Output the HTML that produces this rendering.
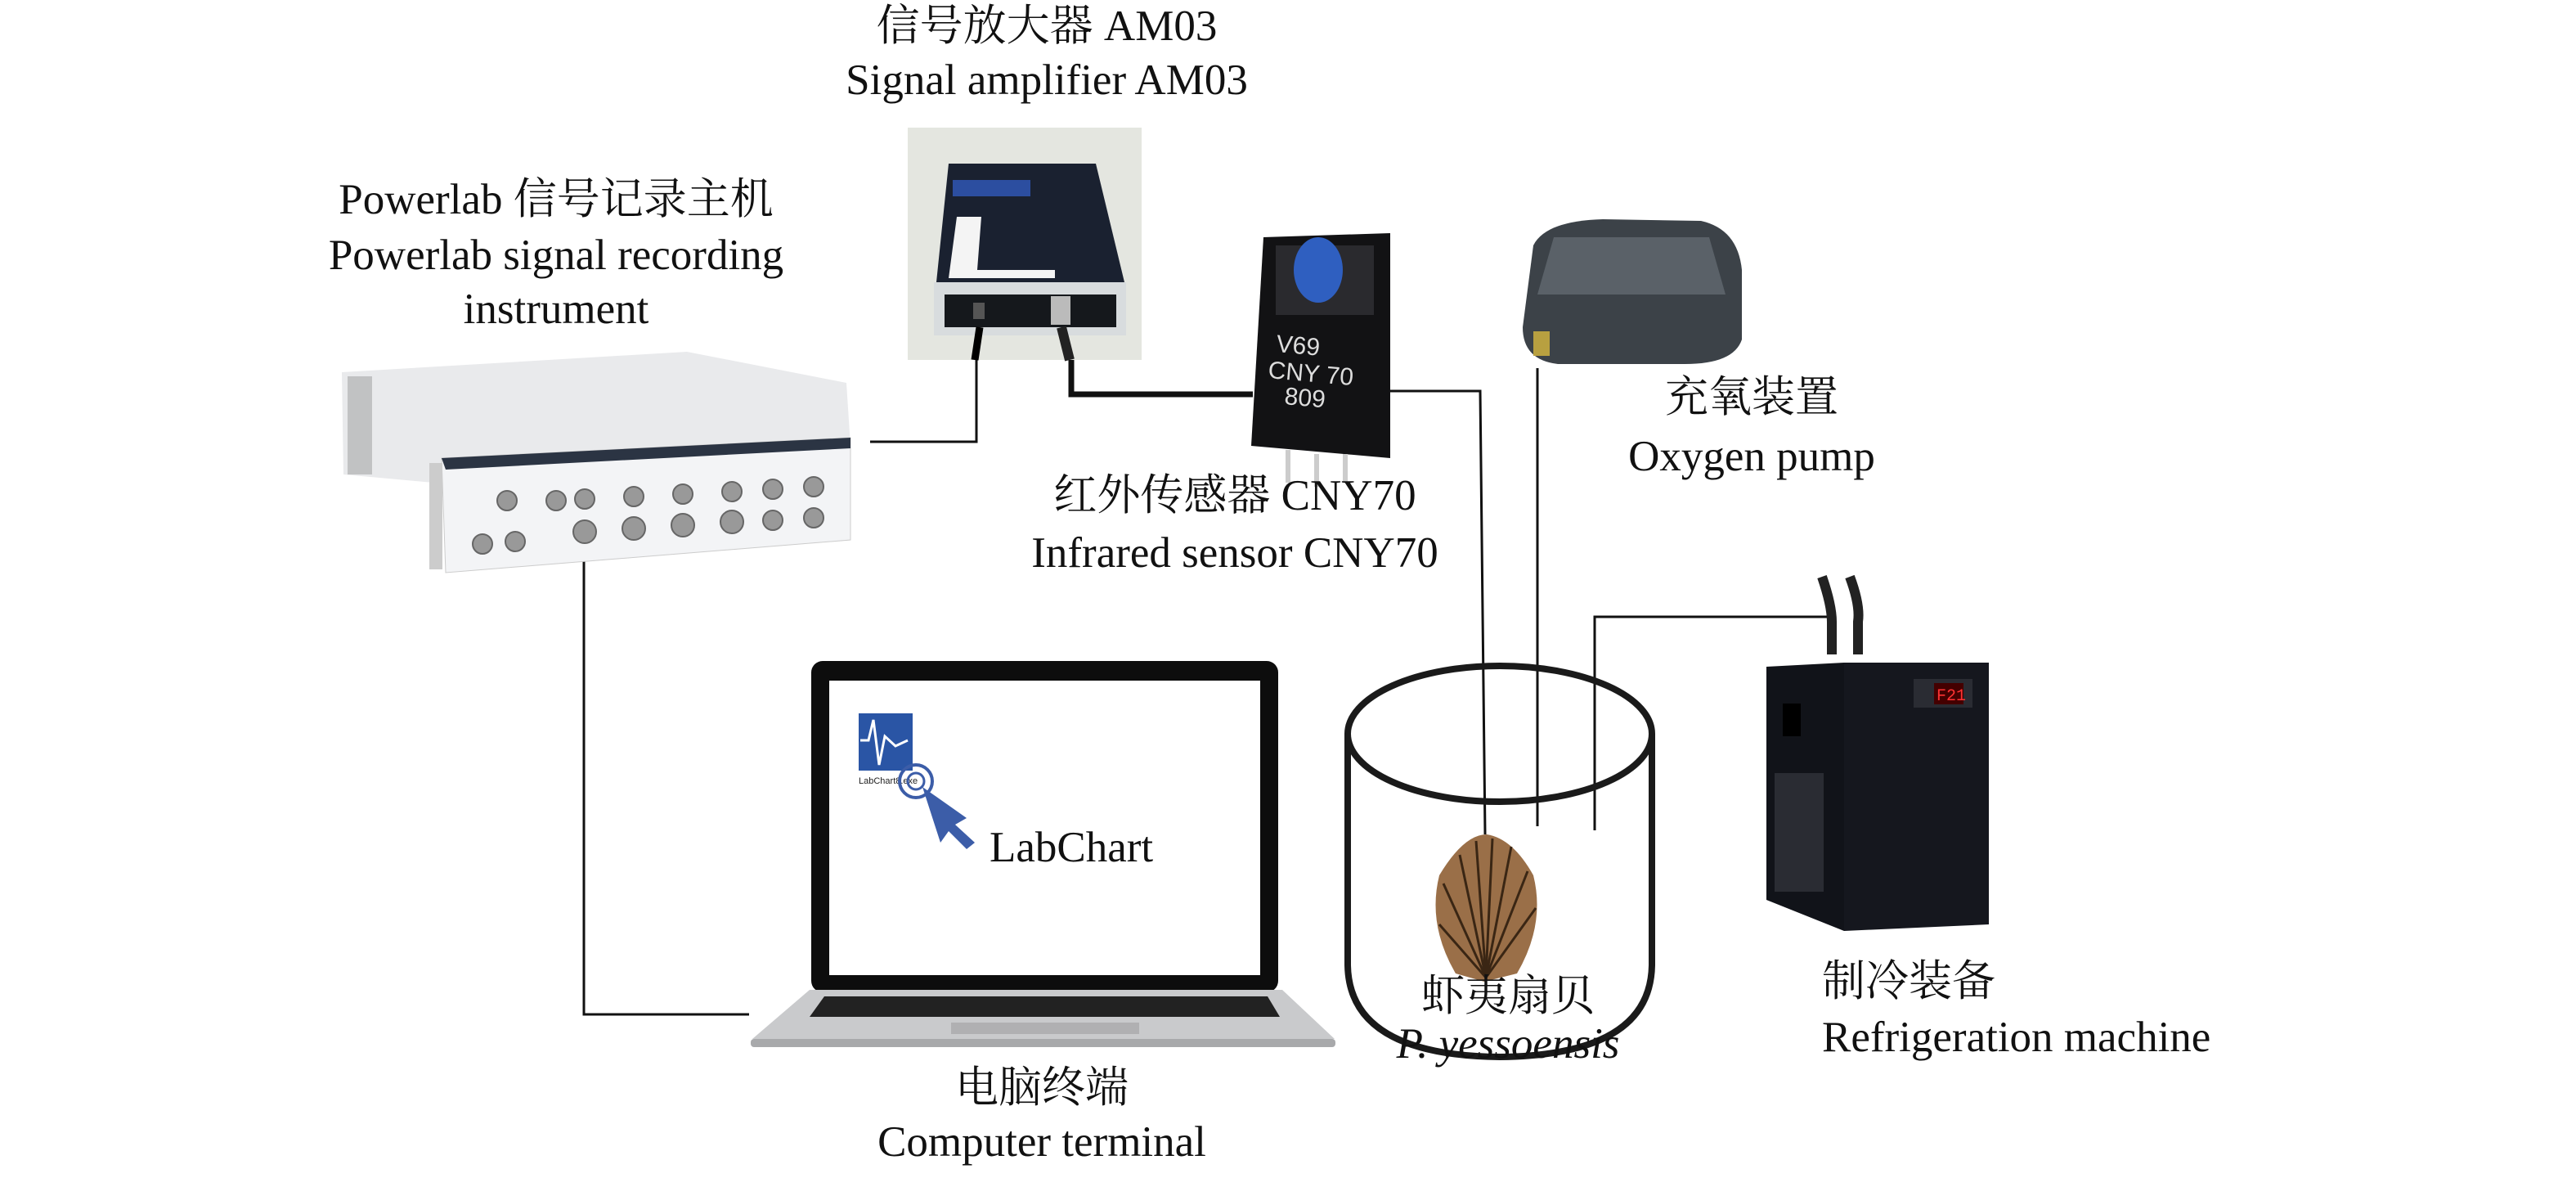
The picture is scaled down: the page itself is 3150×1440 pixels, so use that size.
<!DOCTYPE html>
<html><head><meta charset="utf-8"><style>
body{margin:0;width:3150px;height:1440px;background:#fff;position:relative;overflow:hidden;font-family:"Liberation Serif","Noto Serif CJK SC",serif;color:#111}
.t{position:absolute;font-size:53px;line-height:1;white-space:nowrap;transform:translateX(-50%)}
.l{position:absolute;font-size:53px;line-height:1;white-space:nowrap}
svg{position:absolute;left:0;top:0}
</style></head><body>
<svg width="3150" height="1440" viewBox="0 0 3150 1440">
<g stroke="#111" stroke-width="3" fill="none">
<polyline points="1064,540 1194,540 1194,440"/>
<polyline points="1700,478 1810,478 1816,1020"/>
<polyline points="1880,450 1880,1010"/>
<polyline points="1950,1015 1950,754 2240,754"/>
<polyline points="714,640 714,1240 916,1240"/>
</g>
<polyline points="1310,440 1310,482 1532,482" stroke="#111" stroke-width="7" fill="none"/>
<rect x="1110" y="156" width="286" height="284" fill="#e4e6e0"/>
<polygon points="1160,200 1340,200 1375,345 1145,345" fill="#1a2130"/>
<rect x="1165" y="220" width="95" height="20" fill="#2c4ea0"/>
<polygon points="1170,265 1200,265 1195,330 1290,330 1290,340 1160,340" fill="#f4f4f4"/>
<rect x="1142" y="345" width="235" height="65" fill="#d8dcde"/>
<rect x="1155" y="360" width="210" height="40" fill="#15181c"/>
<rect x="1190" y="370" width="14" height="20" fill="#555"/>
<rect x="1285" y="362" width="24" height="35" fill="#bbb"/>
<path d="M1198,400 L1192,440" stroke="#000" stroke-width="9"/>
<path d="M1298,400 L1308,440" stroke="#222" stroke-width="12"/>
<polygon points="418,455 840,430 1035,468 1040,545 640,600 420,580" fill="#e9eaec"/>
<polygon points="540,560 1040,535 1040,660 545,700" fill="#f3f4f6" stroke="#ccc"/>
<polygon points="540,560 1040,535 1040,548 545,574" fill="#2b3443"/>
<rect x="525" y="566" width="16" height="130" fill="#ccc"/>
<rect x="425" y="460" width="30" height="120" fill="#999" opacity=".5"/>
<g fill="#999" stroke="#666" stroke-width="2">
<circle cx="620" cy="612" r="12"/><circle cx="590" cy="665" r="12"/><circle cx="630" cy="662" r="12"/>
<circle cx="680" cy="612" r="12"/><circle cx="715" cy="610" r="12"/><circle cx="775" cy="607" r="12"/><circle cx="835" cy="604" r="12"/><circle cx="895" cy="601" r="12"/><circle cx="945" cy="598" r="12"/><circle cx="995" cy="595" r="12"/>
<circle cx="715" cy="650" r="14"/><circle cx="775" cy="646" r="14"/><circle cx="835" cy="642" r="14"/><circle cx="895" cy="638" r="14"/><circle cx="945" cy="636" r="12"/><circle cx="995" cy="633" r="12"/>
</g>
<polygon points="1545,290 1700,285 1700,560 1530,545" fill="#121214"/>
<rect x="1560" y="300" width="120" height="85" fill="#2a2a2e"/>
<ellipse cx="1612" cy="330" rx="30" ry="40" fill="#2f5fc0"/>
<g stroke="#ccc" stroke-width="6"><line x1="1575" y1="550" x2="1575" y2="590"/><line x1="1610" y1="555" x2="1610" y2="595"/><line x1="1645" y1="555" x2="1645" y2="590"/></g>
<text x="1560" y="430" font-family="Liberation Sans" font-size="30" fill="#ddd" transform="rotate(5 1560 430)">V69</text>
<text x="1550" y="462" font-family="Liberation Sans" font-size="30" fill="#ddd" transform="rotate(5 1550 462)">CNY 70</text>
<text x="1570" y="494" font-family="Liberation Sans" font-size="30" fill="#ddd" transform="rotate(5 1570 494)">809</text>
<path d="M1875,300 Q1890,270 1960,268 L2080,270 Q2125,280 2130,330 L2130,415 Q2120,445 2060,445 L1905,445 Q1862,440 1862,400 Z" fill="#3c4248"/>
<path d="M1900,290 L2090,290 L2110,360 L1880,360 Z" fill="#5a6168"/>
<rect x="1875" y="405" width="20" height="30" fill="#b8a040"/>
<g stroke="#1a1a1a" stroke-width="8" fill="none">
<ellipse cx="1834" cy="897" rx="186" ry="83"/>
<path d="M1648,897 L1648,1180 Q1650,1290 1834,1292 Q2018,1290 2020,1180 L2020,897"/>
</g>
<path d="M1815,1200 L1780,1190 Q1745,1130 1760,1070 Q1790,1020 1818,1020 Q1850,1025 1875,1070 Q1890,1130 1855,1190 Z" fill="#9a6f48"/>
<g stroke="#3a2614" stroke-width="3">
<line x1="1817" y1="1195" x2="1765" y2="1080"/><line x1="1817" y1="1195" x2="1785" y2="1045"/><line x1="1817" y1="1195" x2="1805" y2="1028"/><line x1="1817" y1="1195" x2="1825" y2="1025"/><line x1="1817" y1="1195" x2="1848" y2="1035"/><line x1="1817" y1="1195" x2="1868" y2="1065"/><line x1="1817" y1="1195" x2="1878" y2="1110"/><line x1="1817" y1="1195" x2="1760" y2="1130"/>
</g>
<path d="M2228,705 Q2240,740 2240,760 L2240,800" stroke="#222" stroke-width="12" fill="none"/>
<path d="M2262,705 Q2275,740 2272,760 L2272,800" stroke="#222" stroke-width="12" fill="none"/>
<polygon points="2160,815 2255,810 2255,1138 2160,1100" fill="#111319"/>
<polygon points="2255,810 2432,810 2432,1130 2255,1138" fill="#15171e"/>
<rect x="2340" y="830" width="72" height="35" fill="#2a2c33"/>
<rect x="2365" y="835" width="36" height="26" fill="#400"/>
<text x="2368" y="856" font-family="Liberation Mono" font-size="20" fill="#f33">F21</text>
<rect x="2180" y="860" width="22" height="40" fill="#000"/>
<rect x="2170" y="945" width="60" height="145" fill="#2a2c33"/>
<rect x="992" y="808" width="571" height="405" rx="14" fill="#0d0d0d"/>
<rect x="1014" y="832" width="527" height="360" fill="#fff"/>
<polygon points="990,1210 1568,1210 1632,1270 920,1270" fill="#c9cacc"/>
<polygon points="1008,1218 1550,1218 1565,1243 990,1243" fill="#222"/>
<rect x="1163" y="1250" width="230" height="14" fill="#b0b0b2"/>
<rect x="918" y="1270" width="715" height="10" rx="4" fill="#a8a9ab"/>
<rect x="1050" y="872" width="66" height="70" fill="#2a55a5"/>
<path d="M1052,905 L1062,905 L1068,880 L1075,935 L1082,900 L1095,912 L1110,905" stroke="#fff" stroke-width="3" fill="none"/>
<text x="1050" y="958" font-family="Liberation Sans" font-size="11" fill="#222">LabChart8.exe</text>
<circle cx="1120" cy="955" r="20" stroke="#3c5da8" stroke-width="4" fill="none"/>
<circle cx="1120" cy="955" r="10" stroke="#3c5da8" stroke-width="3" fill="none"/>
<polygon points="1128,962 1182,1000 1168,1008 1192,1030 1182,1038 1160,1016 1150,1030" fill="#3c5da8"/>
</svg>
<div class="t" style="left:1280px;top:6px">信号放大器 AM03</div>
<div class="t" style="left:1280px;top:72px">Signal amplifier AM03</div>
<div class="t" style="left:680px;top:218px">Powerlab 信号记录主机</div>
<div class="t" style="left:680px;top:286px">Powerlab signal recording</div>
<div class="t" style="left:680px;top:352px">instrument</div>
<div class="t" style="left:1510px;top:580px">红外传感器 CNY70</div>
<div class="t" style="left:1510px;top:650px">Infrared sensor CNY70</div>
<div class="t" style="left:2142px;top:460px">充氧装置</div>
<div class="t" style="left:2142px;top:532px">Oxygen pump</div>
<div class="l" style="left:1210px;top:1010px">LabChart</div>
<div class="t" style="left:1844px;top:1192px">虾夷扇贝</div>
<div class="t" style="left:1844px;top:1250px;font-style:italic">P. yessoensis</div>
<div class="l" style="left:2228px;top:1174px">制冷装备</div>
<div class="l" style="left:2228px;top:1242px">Refrigeration machine</div>
<div class="t" style="left:1274px;top:1304px">电脑终端</div>
<div class="t" style="left:1274px;top:1370px">Computer terminal</div>
</body></html>
